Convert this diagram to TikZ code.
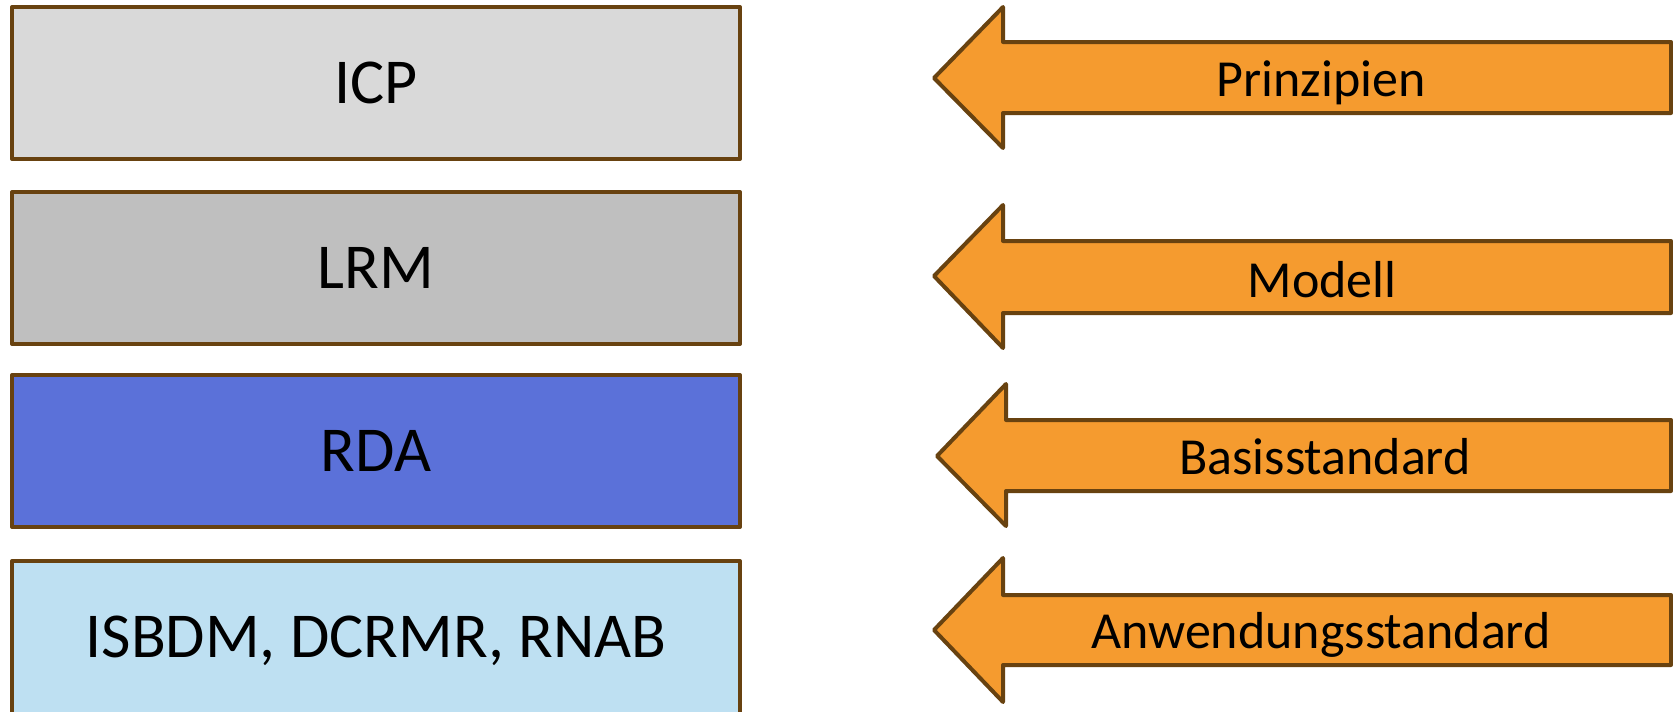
\documentclass[tikz,border=0pt]{standalone}
\usepackage{fontspec}
\setmainfont{Carlito}
\definecolor{brd}{RGB}{104,66,16}
\definecolor{boxA}{RGB}{217,217,217}
\definecolor{boxB}{RGB}{191,191,191}
\definecolor{boxC}{RGB}{91,113,217}
\definecolor{boxD}{RGB}{190,224,242}
\definecolor{arr}{RGB}{245,155,47}
\tikzset{
  layerbox/.style={draw=brd, line width=4pt, line join=round, rectangle,
    minimum width=728pt, minimum height=152pt, inner sep=0pt,
    font=\fontsize{64}{64}\selectfont, text height=41pt, text depth=0pt},
  arrowshape/.style={draw=brd, fill=arr, line width=4pt, line join=round},
  arrowlabel/.style={anchor=base, inner sep=0pt, font=\fontsize{52}{52}\selectfont}
}
\begin{document}
\begin{tikzpicture}[x=1pt,y=-1pt]
\useasboundingbox (0,0) rectangle (1673,712);
% layer boxes
\node[layerbox, fill=boxA] (icp) at (376,83) {ICP};
\node[layerbox, fill=boxB] (lrm) at (376,268) {LRM};
\node[layerbox, fill=boxC] (rda) at (376,451) {RDA};
\node[layerbox, fill=boxD, minimum height=164pt, text depth=12pt] (isb) at (376,643) {ISBDM, DCRMR, RNAB};
% arrows
\draw[arrowshape] (934,78) -- (1003,7) -- (1003,42) -- (1671,42) -- (1671,113) -- (1003,113) -- (1003,148) -- cycle;
\draw[arrowshape] (934,276) -- (1003,205) -- (1003,241) -- (1671,241) -- (1671,313) -- (1003,313) -- (1003,348) -- cycle;
\draw[arrowshape] (937,456) -- (1006,384) -- (1006,420) -- (1671,420) -- (1671,491) -- (1006,491) -- (1006,526) -- cycle;
\draw[arrowshape] (934,630) -- (1003,558) -- (1003,595) -- (1671,595) -- (1671,665) -- (1003,665) -- (1003,702) -- cycle;
% arrow labels
\node[arrowlabel] (p) at (1321,96) {Prinzipien};
\node[arrowlabel] (m) at (1322,297) {Modell};
\node[arrowlabel] (b) at (1325,474) {Basisstandard};
\node[arrowlabel] (a) at (1321,648) {Anwendungsstandard};
\end{tikzpicture}
\end{document}
